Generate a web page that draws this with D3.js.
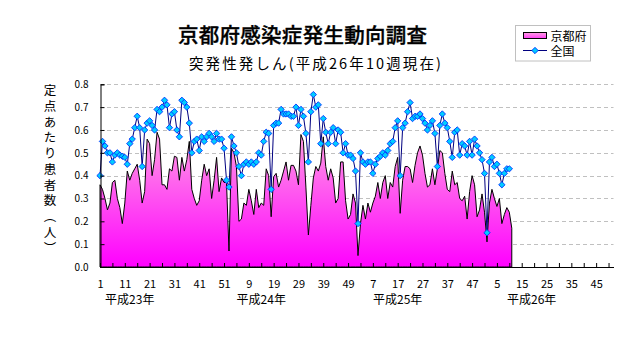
<!DOCTYPE html>
<html><head><meta charset="utf-8">
<script src="https://cdn.jsdelivr.net/npm/d3@7"></script>
<style>
html,body{margin:0;padding:0;background:#fff;}
svg{display:block;}
text{font-family:"Noto Sans CJK JP","Noto Sans",sans-serif;fill:#000;}
</style></head>
<body><svg id="c" width="632" height="348"></svg>
<script>
// ---- data ----
const titleText = "京都府感染症発生動向調査";
const subtitleText = "突発性発しん(平成26年10週現在)";
const yAxisTitle = "定点あたり患者数（人）";
const yearLabels = ["平成23年", "平成24年", "平成25年", "平成26年"];
const weeksPerYear = [52, 52, 52, 52];
const yearLabelAt = [12, 65, 120, 174]; // category index under which each year label sits
const seriesNames = ["京都府", "全国"];
const yTicks = [0, 0.1, 0.2, 0.3, 0.4, 0.5, 0.6, 0.7, 0.8];

const kyoto = [
0.36,0.34,0.30,0.25,0.28,0.37,0.38,0.30,0.26,0.19,0.28,0.42,0.38,0.41,0.43,0.45,0.38,0.28,0.33,0.56,
0.54,0.40,0.47,0.59,0.56,0.36,0.36,0.34,0.43,0.42,0.485,0.48,0.38,0.48,0.42,0.47,0.55,0.34,0.30,0.27,
0.29,0.38,0.45,0.40,0.43,0.30,0.38,0.48,0.33,0.39,0.37,0.37,0.07,0.52,0.50,0.44,0.20,0.21,0.28,0.27,
0.34,0.29,0.23,0.34,0.26,0.28,0.27,0.43,0.40,0.22,0.395,0.41,0.35,0.38,0.42,0.46,0.38,0.445,0.445,0.42,
0.36,0.58,0.55,0.35,0.14,0.27,0.39,0.44,0.42,0.455,0.57,0.44,0.38,0.43,0.39,0.28,0.30,0.46,0.46,0.29,
0.21,0.23,0.32,0.28,0.05,0.19,0.27,0.21,0.28,0.24,0.28,0.31,0.37,0.30,0.37,0.40,0.30,0.37,0.35,0.44,
0.48,0.235,0.38,0.44,0.44,0.43,0.37,0.445,0.50,0.53,0.49,0.41,0.35,0.36,0.43,0.36,0.43,0.51,0.50,0.41,
0.34,0.33,0.42,0.36,0.37,0.30,0.29,0.31,0.21,0.33,0.40,0.36,0.22,0.25,0.32,0.24,0.11,0.28,0.34,0.30,
0.265,0.30,0.19,0.23,0.26,0.24,0.17
];
const national = [
0.40,0.55,0.53,0.50,0.50,0.46,0.49,0.50,0.49,0.485,0.48,0.45,0.54,0.56,0.61,0.66,0.61,0.44,0.60,0.63,
0.64,0.62,0.60,0.69,0.68,0.70,0.73,0.71,0.61,0.67,0.68,0.60,0.57,0.73,0.72,0.70,0.63,0.50,0.55,0.56,
0.51,0.57,0.55,0.57,0.585,0.57,0.55,0.585,0.56,0.56,0.52,0.38,0.35,0.57,0.53,0.50,0.44,0.40,0.45,0.46,
0.45,0.46,0.45,0.46,0.50,0.49,0.55,0.59,0.585,0.34,0.62,0.63,0.63,0.69,0.67,0.67,0.67,0.66,0.66,0.70,
0.62,0.69,0.66,0.585,0.46,0.68,0.755,0.70,0.71,0.54,0.65,0.59,0.54,0.59,0.61,0.54,0.60,0.59,0.50,0.54,
0.49,0.49,0.475,0.42,0.19,0.50,0.46,0.45,0.46,0.46,0.41,0.45,0.475,0.485,0.50,0.49,0.51,0.54,0.55,0.61,
0.64,0.40,0.61,0.63,0.68,0.72,0.65,0.66,0.66,0.67,0.65,0.63,0.60,0.62,0.64,0.585,0.44,0.62,0.67,0.63,
0.61,0.55,0.48,0.59,0.60,0.49,0.54,0.53,0.49,0.55,0.49,0.56,0.53,0.50,0.47,0.41,0.15,0.46,0.48,0.44,
0.45,0.41,0.36,0.41,0.43,0.43
];

// categories: every week of every year
const categories = [];
const weekNo = {};
yearLabels.forEach((yl, yi) => {
  for (let w = 1; w <= weeksPerYear[yi]; w++) {
    const key = yl + w + "週";
    categories.push(key);
    weekNo[key] = w;
  }
});

// ---- drawing ----
const svg = d3.select("#c");
const x = d3.scalePoint().domain(categories).range([100, 613.5]);
const y = d3.scaleLinear().domain([0, 0.8]).range([267, 84.3]);

const defs = svg.append("defs");
const g1 = defs.append("linearGradient").attr("id", "pinkGrad")
  .attr("gradientUnits", "userSpaceOnUse")
  .attr("x1", 0).attr("x2", 0).attr("y1", y(0.62)).attr("y2", y(0));
g1.append("stop").attr("offset", "0").attr("stop-color", "#ffa6e2");
g1.append("stop").attr("offset", "1").attr("stop-color", "#ff00ff");
const g2 = defs.append("linearGradient").attr("id", "legGrad")
  .attr("x1", 0).attr("x2", 0).attr("y1", 0).attr("y2", 1);
g2.append("stop").attr("offset", "0").attr("stop-color", "#ff9fe4");
g2.append("stop").attr("offset", "1").attr("stop-color", "#ff3cf4");

// title
svg.append("text").attr("x", 178).attr("y", 43)
  .attr("font-size", 20.5).attr("font-weight", 500)
  .attr("stroke", "#000").attr("stroke-width", 0.35)
  .attr("textLength", 249).attr("lengthAdjust", "spacing")
  .text(titleText);
svg.append("text").attr("x", 189).attr("y", 69)
  .attr("font-size", 14.5)
  .attr("textLength", 252).attr("lengthAdjust", "spacing")
  .text(subtitleText);

// gridlines
svg.append("g").selectAll("line").data(yTicks.filter(d => d > 0)).join("line")
  .attr("x1", 100).attr("x2", 613.5)
  .attr("y1", d => Math.round(y(d)) + 0.5).attr("y2", d => Math.round(y(d)) + 0.5)
  .attr("stroke", "#c0c0c0").attr("stroke-width", 1).attr("stroke-dasharray", "4,3");

// Kyoto area
const kyotoPts = kyoto.map((v, i) => [categories[i], v]);
const area = d3.area().x(d => x(d[0])).y0(y(0)).y1(d => y(d[1]));
svg.append("path").datum(kyotoPts).attr("d", area)
  .attr("fill", "url(#pinkGrad)").attr("stroke", "#000").attr("stroke-width", 1)
  .attr("stroke-linejoin", "miter");

// national line
const natPts = national.map((v, i) => [categories[i], v]);
const line = d3.line().x(d => x(d[0])).y(d => y(d[1]));
svg.append("path").datum(natPts).attr("d", line)
  .attr("fill", "none").attr("stroke", "#000080").attr("stroke-width", 1);
const squareDiamond = {
  draw(ctx, size) {
    const r = Math.sqrt(size / 2);
    ctx.moveTo(0, -r); ctx.lineTo(r, 0); ctx.lineTo(0, r); ctx.lineTo(-r, 0); ctx.closePath();
  }
};
const diamond = d3.symbol().type(squareDiamond).size(20);
svg.append("g").selectAll("path").data(natPts).join("path")
  .attr("d", diamond)
  .attr("transform", d => `translate(${x(d[0])},${y(d[1])})`)
  .attr("fill", "#00ccff").attr("stroke", "#0033ff").attr("stroke-width", 0.9);

// axes
const xTickVals = categories.filter((c, i) => i % 5 === 0);
const xLabVals = categories.filter((c, i) => i % 10 === 0);
const ax1 = svg.append("g").attr("transform", `translate(0,${y(0)})`)
  .call(d3.axisBottom(x).tickValues(xTickVals).tickSize(-4).tickFormat(""));
ax1.select(".domain").remove();
ax1.selectAll("line").attr("stroke", "#000");
const ax2 = svg.append("g").attr("transform", `translate(0,${y(0)})`)
  .call(d3.axisBottom(x).tickValues(xLabVals).tickSize(0).tickPadding(13).tickFormat(d => weekNo[d]));
ax2.select(".domain").remove();
ax2.selectAll("text").attr("font-size", 11).attr("font-family", "'Noto Sans CJK JP'");
svg.append("line").attr("x1", 100).attr("x2", 614).attr("y1", y(0) + 0.5).attr("y2", y(0) + 0.5)
  .attr("stroke", "#000").attr("stroke-width", 1);

const ay = svg.append("g").attr("transform", "translate(100.5,0)")
  .call(d3.axisLeft(y).tickValues(yTicks).tickSize(-4).tickPadding(12).tickFormat(d3.format(".1f")));
ay.select(".domain").attr("stroke", "#000");
ay.selectAll("line").attr("stroke", "#000");
ay.selectAll("text").attr("font-size", 10).attr("font-family", "'Noto Sans CJK JP'");

// year labels
svg.append("g").selectAll("text").data(yearLabels).join("text")
  .attr("x", (d, i) => x(categories[yearLabelAt[i]]))
  .attr("y", 304).attr("text-anchor", "middle").attr("font-size", 12)
  .text(d => d);

// y-axis title (vertical)
svg.append("text").attr("x", 50).attr("y", 84)
  .attr("font-size", 12.5)
  .style("writing-mode", "vertical-rl").style("text-orientation", "upright")
  .attr("textLength", 170).attr("lengthAdjust", "spacing")
  .text(yAxisTitle);

// legend
const lg = svg.append("g");
lg.append("rect").attr("x", 515.5).attr("y", 25.5).attr("width", 75).attr("height", 35.5)
  .attr("fill", "#fff").attr("stroke", "#c0c0c0");
lg.append("rect").attr("x", 523.5).attr("y", 32.5).attr("width", 23).attr("height", 6)
  .attr("fill", "url(#legGrad)").attr("stroke", "#000");
lg.append("text").attr("x", 550.5).attr("y", 40.5).attr("font-size", 12).text(seriesNames[0]);
lg.append("line").attr("x1", 523).attr("x2", 547).attr("y1", 50.5).attr("y2", 50.5)
  .attr("stroke", "#000080");
lg.append("path").attr("d", diamond).attr("transform", "translate(535,50.5)")
  .attr("fill", "#00ccff").attr("stroke", "#0033ff").attr("stroke-width", 0.9);
lg.append("text").attr("x", 550.5).attr("y", 56).attr("font-size", 12).text(seriesNames[1]);
</script>
</body></html>
